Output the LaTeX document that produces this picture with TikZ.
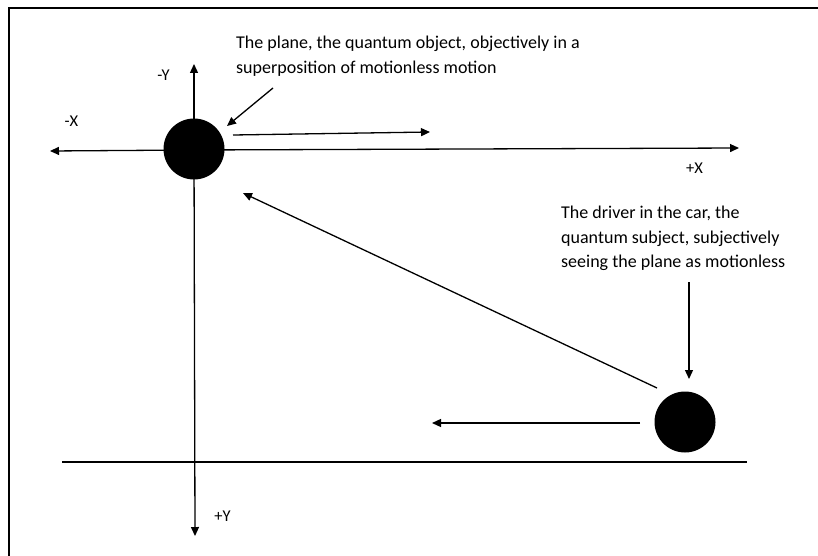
\documentclass[tikz,border=0pt]{standalone}
\usepackage{fontspec}
\setmainfont{Carlito}
\usetikzlibrary{arrows.meta}
\begin{document}
\begin{tikzpicture}[x=1pt,y=-1pt,
  ax/.style={line width=1.3pt,-{Triangle[length=9pt,width=8pt]}},
  ball/.style={circle,fill=black,minimum size=61pt,inner sep=0pt},
  lbl/.style={font=\fontsize{16.5}{18}\selectfont,inner sep=0pt},
  txt/.style={font=\fontsize{18}{24.5}\selectfont,align=left,inner sep=0pt,anchor=north west}]
\useasboundingbox (0,0) rectangle (818,556);
\fill[white] (0,0) rectangle (818,556);
% frame
\draw[line width=2.2pt] (9,556) -- (9,8) -- (818,8);
% coordinates
\coordinate (xl) at (50,151);
\coordinate (xr) at (739,148);
\coordinate (yt) at (194,64);
\coordinate (yb) at (195,536);
\coordinate (o) at (194,150);
% axes
\draw[ax] (o) -- (xl);
\draw[ax] (o) -- (xr);
\draw[ax] (o) -- (yt);
\draw[ax] (o) -- (yb);
% plane
\node[ball] (plane) at (194,149) {};
% car
\node[ball] (car) at (685,422) {};
% ground
\coordinate (g1) at (62,462);
\coordinate (g2) at (747,462);
\draw[line width=1.3pt] (g1) -- (g2);
% labels
\node[lbl] (my) at (163.5,75.5) {-Y};
\node[lbl] (mx) at (71.5,121.5) {-X};
\node[lbl] (px) at (694.5,168.5) {+X};
\node[lbl] (py) at (222.5,516.5) {+Y};
% texts
\node[txt] (t1) at (236,36) {The plane, the quantum object, objectively in a\\superposition of motionless motion};
\node[txt] (t2) at (561,206) {The driver in the car, the\\quantum subject, subjectively\\seeing the plane as motionless};
% arrows
\coordinate (a1s) at (273,88);
\coordinate (a1e) at (227,126);
\draw[ax] (a1s) -- (a1e);
\coordinate (m1s) at (233,135);
\coordinate (m1e) at (430,132);
\draw[ax] (m1s) -- (m1e);
\coordinate (d1s) at (657,388);
\coordinate (d1e) at (243,193);
\draw[ax] (d1s) -- (d1e);
\coordinate (v1s) at (689,282);
\coordinate (v1e) at (689,379);
\draw[ax] (v1s) -- (v1e);
\coordinate (l1s) at (640,423);
\coordinate (l1e) at (432,423);
\draw[ax] (l1s) -- (l1e);
\end{tikzpicture}
\end{document}
